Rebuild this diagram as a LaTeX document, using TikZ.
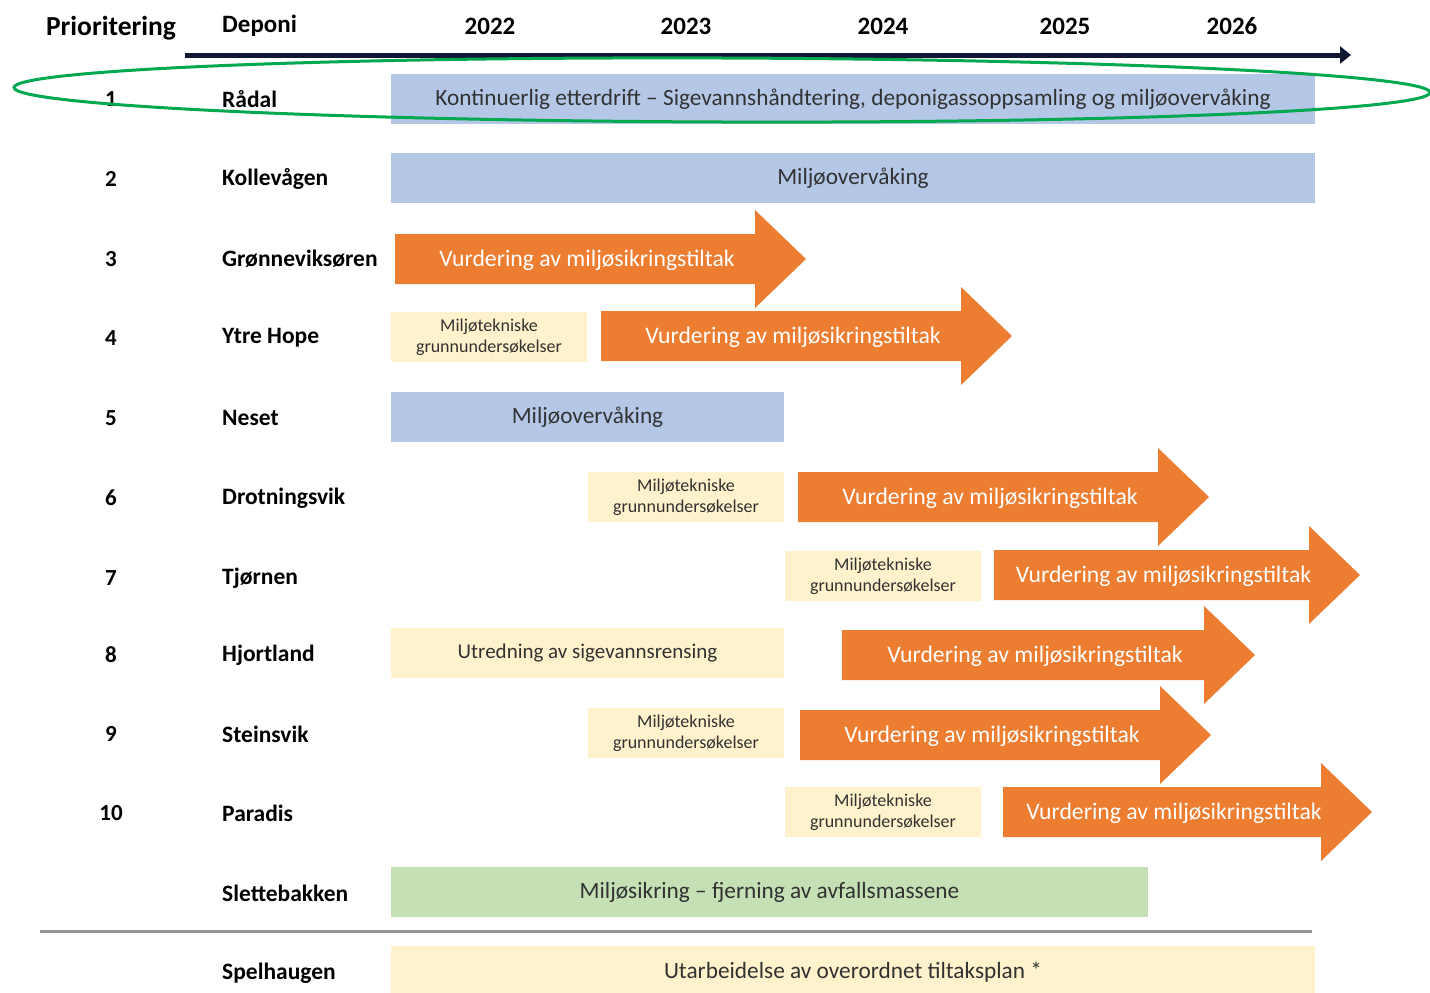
\documentclass[tikz,border=0pt]{standalone}
\usepackage{fontspec}
\setmainfont{Carlito}
\usetikzlibrary{arrows.meta}
\definecolor{barblue}{RGB}{180,199,231}
\definecolor{barorange}{RGB}{237,125,49}
\definecolor{barbeige}{RGB}{255,242,204}
\definecolor{bargreen}{RGB}{197,224,180}
\definecolor{ringgreen}{RGB}{0,168,80}
\definecolor{axisnavy}{RGB}{18,24,52}
\definecolor{sepgray}{RGB}{150,150,150}
\definecolor{boxtext}{RGB}{50,50,50}
\newcommand\vurdpil[4]{% name, x start, x head, y centre
  \fill[barorange] (#2,#4-25) -- (#3,#4-25) -- (#3,#4-49) -- (#3+51,#4) -- (#3,#4+49) -- (#3,#4+25) -- (#2,#4+25) -- cycle;
  \node[arrowtext] (#1) at ({(#2+#3)/2+12},#4+1) {Vurdering av miljøsikringstiltak};
}
\begin{document}
\begin{tikzpicture}[x=1pt,y=-1pt,
  headtext/.style={font=\fontsize{25}{29}\selectfont\bfseries, inner sep=0pt},
  numtext/.style={font=\fontsize{23}{27}\selectfont\bfseries, inner sep=0pt},
  nametext/.style={font=\fontsize{23.5}{27}\selectfont\bfseries, anchor=west, inner sep=0pt},
  bar/.style={inner sep=0pt, minimum height=50pt, text=boxtext, font=\fontsize{23.3}{27}\selectfont},
  smallbox/.style={bar, fill=barbeige, minimum width=196pt, align=center, font=\fontsize{18}{21}\selectfont},
  arrowtext/.style={text=white, inner sep=0pt, font=\fontsize{23.7}{27}\selectfont}
]
\useasboundingbox (0,0) rectangle (1430,993);
% header
\node[headtext, font=\fontsize{27.5}{31}\selectfont\bfseries] (hprio) at (111,28) {Prioritering};
\node[headtext, anchor=west] (hdep) at (222,26) {Deponi};
\node[headtext] (y22) at (490,26) {2022};
\node[headtext] (y23) at (686,26) {2023};
\node[headtext] (y24) at (883,26) {2024};
\node[headtext] (y25) at (1065,26) {2025};
\node[headtext] (y26) at (1232,26) {2026};
\coordinate (axs) at (185,55);
\coordinate (axe) at (1351,55);
\draw[axisnavy, line width=5pt, -{Triangle[length=11pt,width=17pt]}] (axs) -- (axe);
% priority numbers and names
\foreach \n/\yy/\nm in {1/98/Rådal,2/178/Kollevågen,3/258/Grønneviksøren,4/337/Ytre Hope,5/417/Neset,6/497/Drotningsvik,7/577/Tjørnen,8/654/Hjortland,9/733/Steinsvik,10/812/Paradis}{
  \node[numtext] (p\n) at (111,\yy+1) {\n};
  \node[nametext] (d\n) at (222,\yy+1) {\nm};
}
\node[nametext] (dslette) at (222,893) {Slettebakken};
\node[nametext] (dspel) at (222,973) {Spelhaugen};
% bars
\node[bar, fill=barblue, minimum width=924pt] (b1) at (853,99) {Kontinuerlig etterdrift – Sigevannshåndtering, deponigassoppsamling og miljøovervåking};
\node[bar, fill=barblue, minimum width=924pt] (b2) at (853,178) {Miljøovervåking};
\vurdpil{a3}{395}{755}{259}
\node[smallbox] (m4) at (489,337) {Miljøtekniske\\grunnundersøkelser};
\vurdpil{a4}{601}{961}{336}
\node[bar, fill=barblue, minimum width=393pt] (b5) at (587.5,417) {Miljøovervåking};
\node[smallbox] (m6) at (686,497) {Miljøtekniske\\grunnundersøkelser};
\vurdpil{a6}{798}{1158}{497}
\node[smallbox] (m7) at (883,576) {Miljøtekniske\\grunnundersøkelser};
\vurdpil{a7}{994}{1309}{575}
\node[bar, fill=barbeige, minimum width=393pt, font=\fontsize{21}{25}\selectfont] (b8) at (587.5,653) {Utredning av sigevannsrensing};
\vurdpil{a8}{842}{1204}{655}
\node[smallbox] (m9) at (686,733) {Miljøtekniske\\grunnundersøkelser};
\vurdpil{a9}{800}{1160}{735}
\node[smallbox] (m10) at (883,812) {Miljøtekniske\\grunnundersøkelser};
\vurdpil{a10}{1003}{1321}{812}
\node[bar, fill=bargreen, minimum width=757pt] (bslette) at (769.5,892) {Miljøsikring – fjerning av avfallsmassene};
\coordinate (sepl) at (40,931);
\coordinate (sepr) at (1312,931);
\draw[sepgray, line width=3pt] (sepl) -- (sepr);
\node[bar, fill=barbeige, minimum width=924pt, minimum height=52pt] (bspel) at (853,972) {Utarbeidelse av overordnet tiltaksplan *};
% highlight ring
\draw[ringgreen, line width=3pt, rotate around={-0.2:(722,90)}] (722,90) ellipse [x radius=708pt, y radius=32pt];
\end{tikzpicture}
\end{document}
